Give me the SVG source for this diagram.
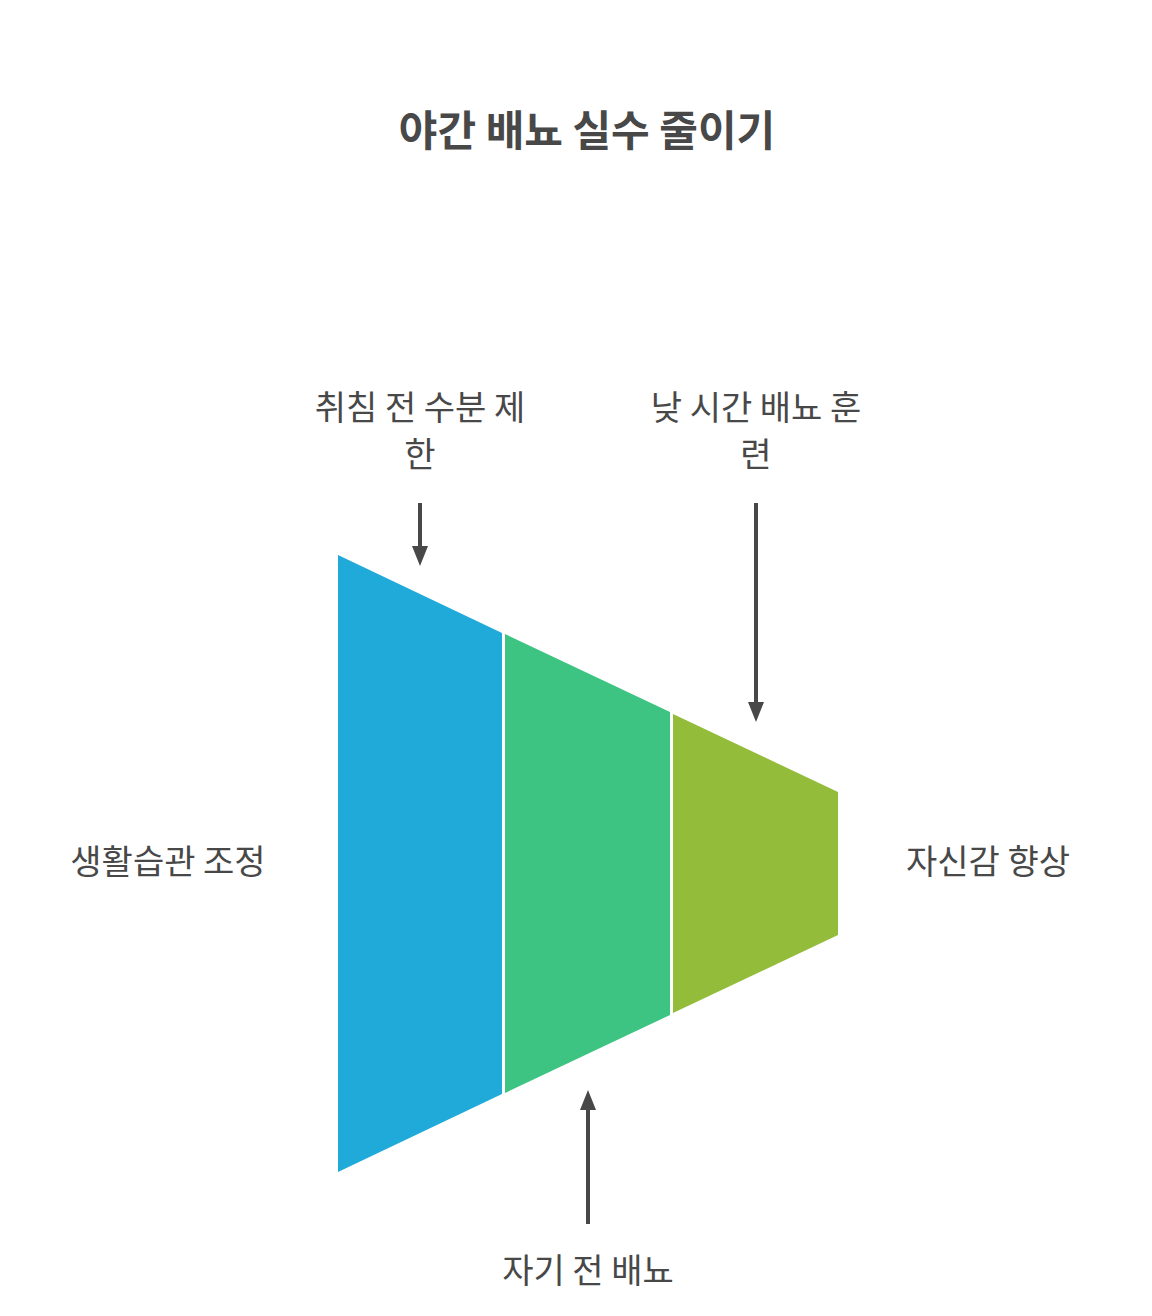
<svg xmlns="http://www.w3.org/2000/svg" width="1152" height="1316" viewBox="0 0 1152 1316">
<style>
text{font-family:"Noto Sans CJK KR","Noto Sans",sans-serif;fill:#484848;text-anchor:middle}
.t{font-size:42px;font-weight:bold}
.l{font-size:34px}
.c{stroke:#484848;stroke-width:4;fill:none}
</style>
<defs><marker id="a" viewBox="0 0 10 10" refX="5" refY="5" markerWidth="5" markerHeight="5" orient="auto"><path d="M0,1 L10,5 L0,9 z" fill="#484848"/></marker></defs>
<rect width="1152" height="1316" fill="#fff"/>
<text class="t" x="587" y="146">야간 배뇨 실수 줄이기</text>
<g id="seg1"><polygon points="338,555 502,633 502,1094 338,1172" fill="#1FAAD9"/></g>
<g id="seg2"><polygon points="505,634 670,712 670,1015 505,1093" fill="#3DC482"/></g>
<g id="seg3"><polygon points="673,714 838,792 838,935 673,1013" fill="#92BC3A"/></g>
<g id="labels">
<text class="l" x="168" y="874">생활습관 조정</text>
<text class="l" x="988" y="874">자신감 향상</text>
<text class="l" x="420" y="420">취침 전 수분 제</text>
<text class="l" x="420" y="467">한</text>
<text class="l" x="756" y="420">낮 시간 배뇨 훈</text>
<text class="l" x="756" y="467">련</text>
<text class="l" x="588" y="1283">자기 전 배뇨</text>
</g>
<g id="connectors">
<line class="c" x1="420" y1="503" x2="420" y2="556" marker-end="url(#a)"/>
<line class="c" x1="756" y1="503" x2="756" y2="712" marker-end="url(#a)"/>
<line class="c" x1="588" y1="1224" x2="588" y2="1100" marker-end="url(#a)"/>
</g>
</svg>
